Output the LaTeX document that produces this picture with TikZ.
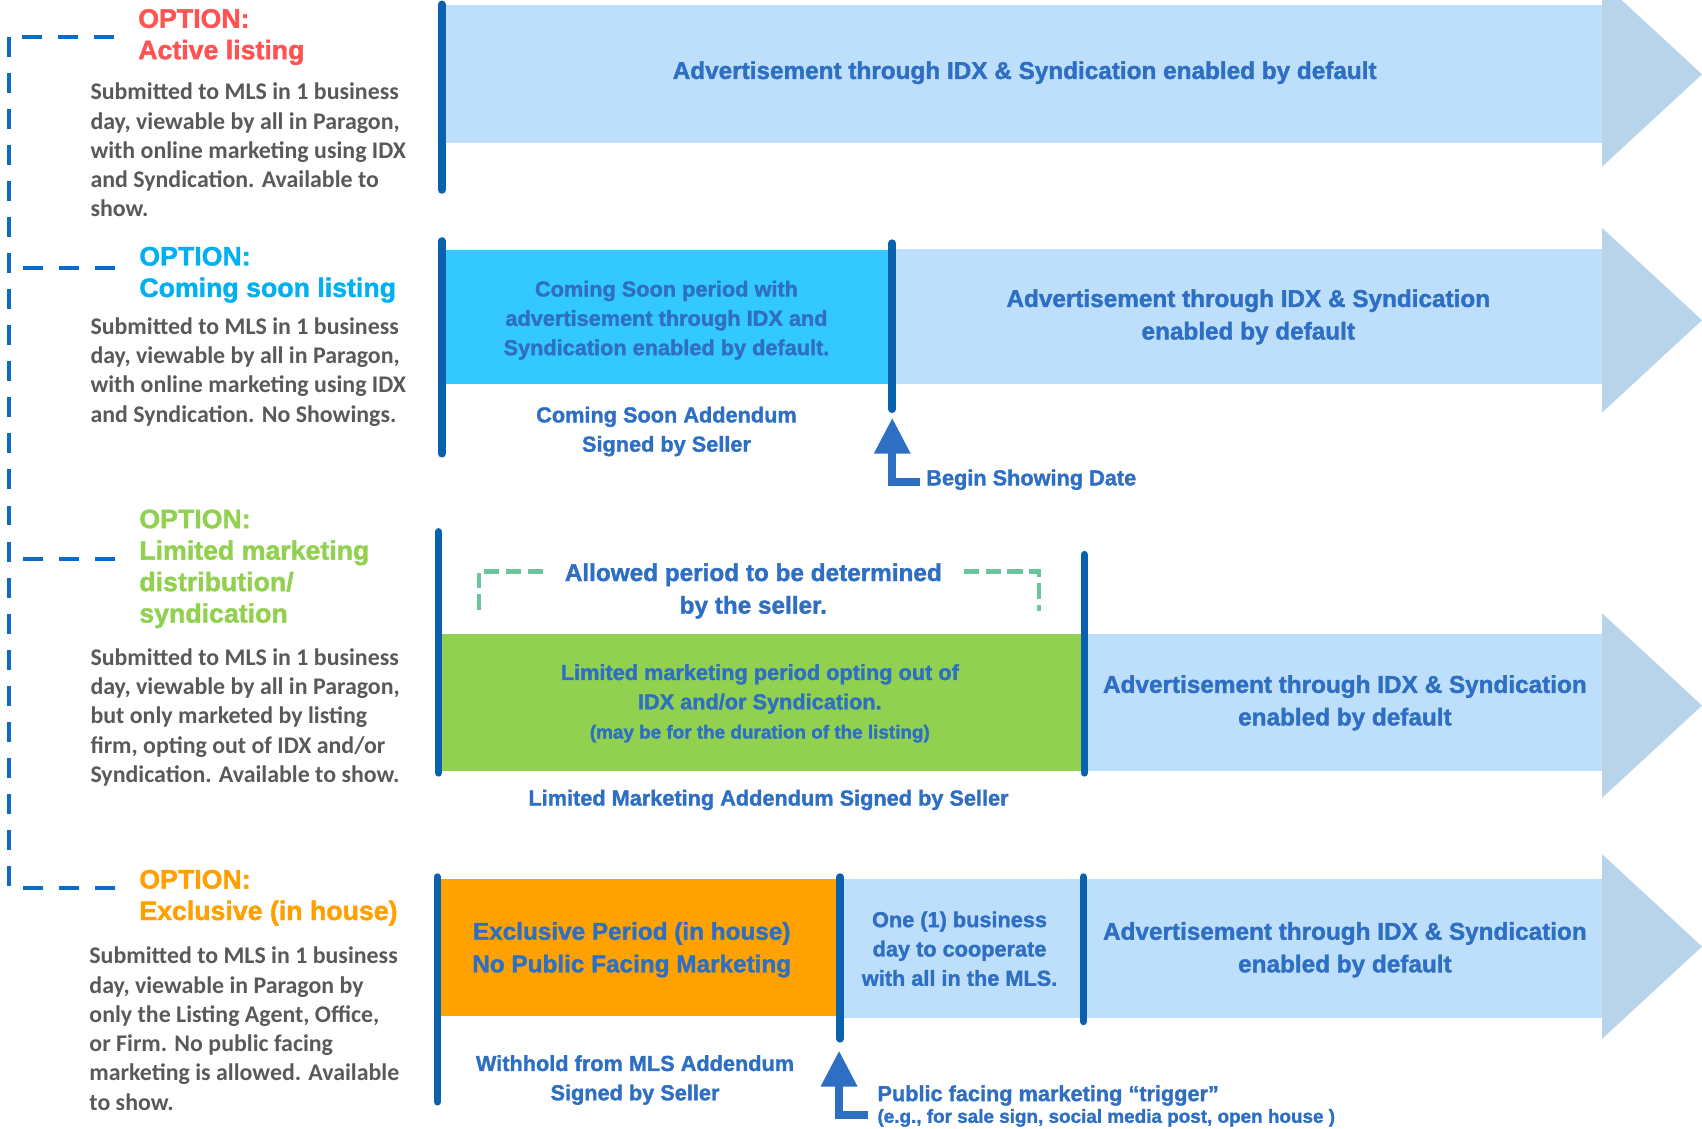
\documentclass[tikz,border=0pt]{standalone}
\usepackage{fontspec}
\setmainfont{Liberation Sans}
\newfontfamily\bodyfont{Carlito}
\newfontfamily\heavyfont{Liberation Sans Bold}[FakeBold=1.5]
\usetikzlibrary{arrows.meta}

\definecolor{bandblue}{HTML}{BDDFFB}
\definecolor{headblue}{HTML}{B8D4EB}
\definecolor{barblue}{HTML}{0A62AE}
\definecolor{inkblue}{HTML}{2E6FC3}
\definecolor{soonblue}{HTML}{33C8FF}
\definecolor{limgreen}{HTML}{92D050}
\definecolor{exclorange}{HTML}{FFA200}
\definecolor{optred}{HTML}{FF5252}
\definecolor{optcyan}{HTML}{00B0F0}
\definecolor{optgreen}{HTML}{92D050}
\definecolor{optorange}{HTML}{FFA000}
\definecolor{bodygray}{HTML}{595959}
\definecolor{mint}{HTML}{6CC49C}
\definecolor{dashblue}{HTML}{0A6CC6}

\tikzset{
  opt/.style={anchor=north west,inner sep=0pt,align=left,font=\heavyfont\fontsize{12.3}{14.5}\selectfont},
  desc/.style={anchor=north west,inner sep=0pt,align=left,text=bodygray,font=\bodyfont\bfseries\fontsize{11}{13.5}\selectfont},
  btext/.style={inner sep=0pt,align=center,text=inkblue,font=\heavyfont\fontsize{10}{13.5}\selectfont},
  bigtext/.style={btext,font=\heavyfont\fontsize{11.2}{15}\selectfont},
  bar/.style={barblue,line width=3.5pt,line cap=round},
  trigger/.style={inkblue,line width=3.5pt,-{Triangle[width=16pt,length=16.5pt]}},
  bracket/.style={dashblue,line width=1.85pt,dash pattern=on 9.2pt off 7.4pt},
  allowed/.style={mint,line width=2pt,dash pattern=on 7pt off 3pt},
}

\begin{document}
\begin{tikzpicture}[x=0.5pt,y=-0.5pt]
\useasboundingbox (0,0) rectangle (1568,1040);

% bands
\fill[bandblue] (411,5) rectangle (1478,132);
\fill[soonblue] (411,230) rectangle (822,354);
\fill[bandblue] (822,229) rectangle (1478,354);
\fill[limgreen] (406,584) rectangle (999,710);
\fill[bandblue] (999,584) rectangle (1478,710);
\fill[exclorange] (405,810) rectangle (774,936);
\fill[bandblue] (774,810) rectangle (1478,938);
\foreach \y in {68.5,295,650,872}
  \fill[headblue] (1476,{\y-85}) -- (1568,\y) -- (1476,{\y+85}) -- cycle;

% bars
\draw[bar] (407,4) -- (407,175);
\draw[bar] (407,222) -- (407,418);
\draw[bar] (822,224) -- (822,377);
\draw[bar] (404,490) -- (404,712);
\draw[bar] (999,511) -- (999,712);
\draw[bar] (403,808) -- (403,1015);
\draw[bar] (774,808) -- (774,957);
\draw[bar] (998,808) -- (998,941);

% options
\node(optA) at (127,8)[opt,text=optred]    {OPTION:\\Active listing};
\node(optC) at (128,227)[opt,text=optcyan] {OPTION:\\Coming soon listing};
\node(optL) at (128,469)[opt,text=optgreen]{OPTION:\\Limited marketing\\distribution/\\syndication};
\node(optE) at (128,801)[opt,text=optorange]{OPTION:\\Exclusive (in house)};

\node(descA) at (83,76)[desc] {Submitted to MLS in 1 business\\day, viewable by all in Paragon,\\with online marketing using IDX\\and Syndication. Available to\\show.};
\node(descC) at (83,292)[desc] {Submitted to MLS in 1 business\\day, viewable by all in Paragon,\\with online marketing using IDX\\and Syndication. No Showings.};
\node(descL) at (83,597)[desc] {Submitted to MLS in 1 business\\day, viewable by all in Paragon,\\but only marketed by listing\\firm, opting out of IDX and/or\\Syndication. Available to show.};
\node(descE) at (82,872)[desc] {Submitted to MLS in 1 business\\day, viewable in Paragon by\\only the Listing Agent, Office,\\or Firm. No public facing\\marketing is allowed. Available\\to show.};

\coordinate(spine) at (8,0);
\foreach \o/\dy in {optA/0pt,optC/3pt,optL/4.5pt,optE/4.5pt}
  \draw[bracket] ([xshift=-11pt,yshift=\dy]\o.west) -- ([yshift=\dy]\o.west -| spine);
\draw[bracket] (optA.west -| spine) -- ([yshift=4.5pt]optE.west -| spine);

% band texts
\node(adv1) at (944,67)[bigtext] {Advertisement through IDX \& Syndication enabled by default};
\node(soon) at (614,295)[btext] {Coming Soon period with\\advertisement through IDX and\\Syndication enabled by default.};
\node(adv2) at (1150,292)[bigtext] {Advertisement through IDX \& Syndication\\enabled by default};
\node(soonadd) at (614,397.5)[btext] {Coming Soon Addendum\\Signed by Seller};
\node(show) at (848,442)[btext,anchor=west,inner xsep=2.5pt] {Begin Showing Date};
\coordinate(showtip) at (822,385);
\draw[trigger] ([yshift=-1pt]show.west) -| (showtip);

\node(allow) at (694,544.5)[bigtext] {Allowed period to be determined\\by the seller.};
\draw[allowed] ([xshift=-10pt,yshift=9pt]allow.west) -| (441,567);
\draw[allowed] ([xshift=10pt,yshift=9pt]allow.east) -| (957,563);
\node(limit) at (700,648)[btext] {Limited marketing period opting out of\\IDX and/or Syndication.\\{\fontsize{8.7}{10}\selectfont(may be for the duration of the listing)}};
\node(adv3) at (1239,647.5)[bigtext] {Advertisement through IDX \& Syndication\\enabled by default};
\node(limadd) at (708,737)[btext] {Limited Marketing Addendum Signed by Seller};

\node(excl) at (582,875)[bigtext] {Exclusive Period (in house)\\No Public Facing Marketing};
\node(oneday) at (884,874)[btext] {One (1) business\\day to cooperate\\with all in the MLS.};
\node(adv4) at (1239,875)[bigtext] {Advertisement through IDX \& Syndication\\enabled by default};
\node(withhold) at (585,995)[btext] {Withhold from MLS Addendum\\Signed by Seller};
\node(trig) at (800,1019)[btext,anchor=west,align=left,inner xsep=4pt,font=\heavyfont\fontsize{10}{10}\selectfont] {Public facing marketing “trigger”\\{\fontsize{8.7}{10}\selectfont(e.g., for sale sign, social media post, open house )}};
\coordinate(trigtip) at (773,968);
\draw[trigger] ([yshift=-4pt]trig.west) -| (trigtip);

\end{tikzpicture}
\end{document}
